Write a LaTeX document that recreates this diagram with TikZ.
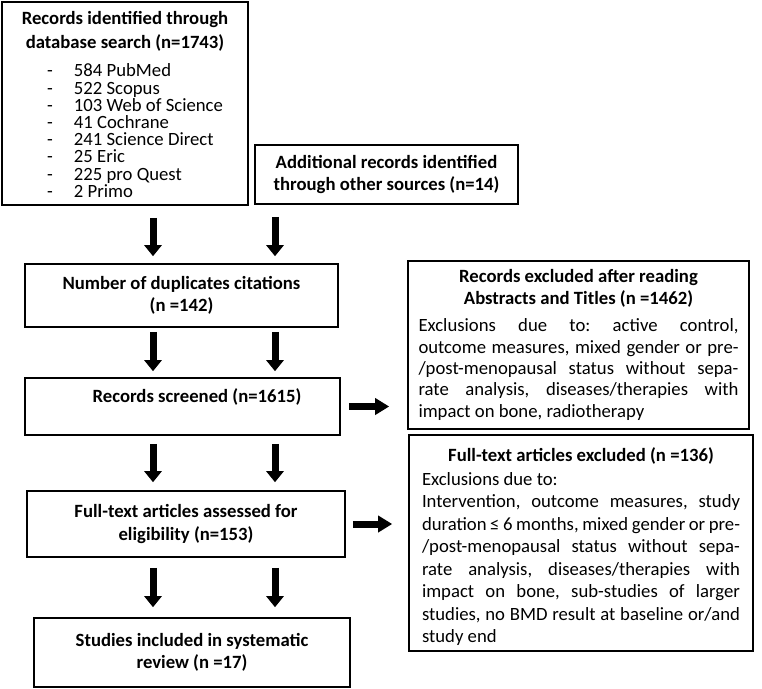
\documentclass[tikz,border=0pt]{standalone}
\usepackage{fontspec}
\setmainfont{Carlito}
\usetikzlibrary{arrows.meta}
\newcommand\jline[1]{\makebox[\linewidth][s]{#1}}
\frenchspacing
\lineskiplimit=-20pt
\begin{document}
\begin{tikzpicture}[x=1pt,y=-1pt,
  box/.style={draw, line width=1.6pt, inner sep=0pt, fill=white},
  ttl/.style={font=\bfseries\fontsize{18.7}{22.5}\selectfont, align=center},
  barrow/.style={line width=7pt, -{Triangle[width=17pt,length=11pt]}},
  harrow/.style={line width=7pt, -{Triangle[width=16pt,length=14pt]}},
]
\fill[white] (0,0) rectangle (762,688);
\useasboundingbox (0,0) rectangle (762,688);

\node[box, minimum width=246pt, minimum height=203pt] (A) at (125,103.5) {\parbox{246pt}{%
  \vspace*{2pt}
  {\centering\bfseries\fontsize{18.7}{24}\selectfont Records identified through\\database search (n=1743)\par}
  \vspace{11pt}
  {\raggedright\fontsize{18.7}{17.2}\selectfont
  \hspace*{45pt}\makebox[27pt][l]{-}584 PubMed\\
  \hspace*{45pt}\makebox[27pt][l]{-}522 Scopus\\
  \hspace*{45pt}\makebox[27pt][l]{-}103 Web of Science\\
  \hspace*{45pt}\makebox[27pt][l]{-}41 Cochrane\\
  \hspace*{45pt}\makebox[27pt][l]{-}241 Science Direct\\
  \hspace*{45pt}\makebox[27pt][l]{-}25 Eric\\
  \hspace*{45pt}\makebox[27pt][l]{-}225 pro Quest\\
  \hspace*{45pt}\makebox[27pt][l]{-}2 Primo\par}}};

\node[box, ttl, minimum width=263pt, minimum height=59pt] (B) at (386.5,174.5)
  {Additional records identified\\through other sources (n=14)};

\node[box, ttl, minimum width=313pt, minimum height=63pt] (C) at (181.5,295.5)
  {Number of duplicates citations\\(n =142)};

\node[box, ttl, minimum width=315pt, minimum height=57pt] (D) at (182.5,406.5)
  {\hspace*{29pt}Records screened (n=1615)\\\mbox{}};

\node[box, ttl, minimum width=318pt, minimum height=66pt] (E) at (186,524)
  {Full-text articles assessed for\\eligibility (n=153)};

\node[box, ttl, minimum width=316pt, minimum height=69pt] (F) at (192,652.5)
  {Studies included in systematic\\review (n =17)};

\node[box, minimum width=341pt, minimum height=168pt] (G) at (578.5,345) {\parbox{320pt}{%
  {\centering\bfseries\fontsize{18.7}{21.7}\selectfont Records excluded after reading\\Abstracts and Titles (n =1462)\par}
  \vspace{6pt}
  {\fontsize{18.7}{21.3}\selectfont\noindent
  \jline{Exclusions due to: active control,}\\
  \jline{outcome measures, mixed gender or pre-}\\
  \jline{/post-menopausal status without sepa-}\\
  \jline{rate analysis, diseases/therapies with}\\
  impact on bone, radiotherapy\par}}};

\node[box, minimum width=344pt, minimum height=216pt] (H) at (581,543) {\parbox{318pt}{%
  \vspace*{8pt}
  {\centering\bfseries\fontsize{18.7}{22}\selectfont Full-text articles excluded (n =136)\par}
  \vspace{1pt}
  {\fontsize{18.7}{22.5}\selectfont\noindent
  Exclusions due to:\\
  \jline{Intervention, outcome measures, study}\\
  \jline{duration ≤ 6 months, mixed gender or pre-}\\
  \jline{/post-menopausal status without sepa-}\\
  \jline{rate analysis, diseases/therapies with}\\
  \jline{impact on bone, sub-studies of larger}\\
  \jline{studies, no BMD result at baseline or/and}\\
  study end\par}}};

\coordinate (xl) at (153,0);
\coordinate (xr) at (275,0);

\draw[barrow, shorten <=12pt, shorten >=7pt] (A.south -| xl) -- (C.north -| xl);
\draw[barrow, shorten <=12pt, shorten >=7pt] (B.south -| xr) -- (C.north -| xr);
\draw[barrow, shorten <=4pt, shorten >=6pt] (C.south -| xl) -- (D.north -| xl);
\draw[barrow, shorten <=4pt, shorten >=6pt] (C.south -| xr) -- (D.north -| xr);
\draw[barrow, shorten <=8pt, shorten >=8pt] (D.south -| xl) -- (E.north -| xl);
\draw[barrow, shorten <=8pt, shorten >=8pt] (D.south -| xr) -- (E.north -| xr);
\draw[barrow, shorten <=10pt, shorten >=10pt] (E.south -| xl) -- (F.north -| xl);
\draw[barrow, shorten <=10pt, shorten >=10pt] (E.south -| xr) -- (F.north -| xr);

\draw[harrow, shorten <=8pt, shorten >=18pt] (D.east) -- (D.east -| G.west);
\draw[harrow, shorten <=7pt, shorten >=16pt] (E.east) -- (E.east -| H.west);
\end{tikzpicture}
\end{document}
